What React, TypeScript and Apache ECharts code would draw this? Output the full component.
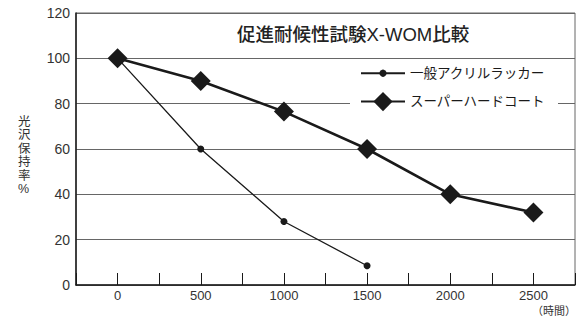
import React, { useEffect, useRef } from "react";
import * as echarts from "echarts";

const hours = [0, 500, 1000, 1500, 2000, 2500];
const acrylicName = "一般アクリルラッカー";
const acrylicValues = [100, 60, 28, 8.5];
const hardName = "スーパーハードコート";
const hardValues = [100, 90, 76.5, 60, 40, 32];
const titleText = "促進耐候性試験X-WOM比較";
const yAxisTitle = "光沢保持率%";
const xAxisUnit = "（時間）";

const FONT = "'Liberation Sans', 'Noto Sans CJK JP', sans-serif";
const INK = "#1a1a1a";

export default function App() {
  const ref = useRef<HTMLDivElement>(null);
  useEffect(() => {
    document.body.style.margin = "0";
    const chart = echarts.init(ref.current!, undefined, { renderer: "svg" });
    const legendBase = {
      left: 350,
      orient: "vertical" as const,
      itemWidth: 44,
      backgroundColor: "#ffffff",
      padding: [3, 13, 3, 10],
      textStyle: { fontSize: 13.5, color: INK, fontFamily: FONT },
    };
    chart.setOption({
      animation: false,
      backgroundColor: "#ffffff",
      textStyle: { fontFamily: FONT },
      grid: {
        left: 76,
        right: 3,
        top: 13,
        bottom: 33,
        show: true,
        borderColor: "#666",
        borderWidth: 1,
      },
      title: {
        text: titleText,
        left: 237,
        top: 25.5,
        padding: 0,
        textStyle: { fontSize: 18.5, fontWeight: 500, color: "#222", fontFamily: FONT },
      },
      legend: [
        { ...legendBase, top: 63.5, itemHeight: 9, data: [acrylicName] },
        { ...legendBase, top: 89, itemHeight: 24, data: [hardName] },
      ],
      xAxis: {
        type: "value",
        min: -250,
        max: 2750,
        interval: 250,
        axisLine: { onZero: false, lineStyle: { color: INK, width: 1.5 } },
        axisTick: { show: true, inside: true, length: 12, lineStyle: { color: INK, width: 1 } },
        splitLine: { show: false },
        axisLabel: {
          fontSize: 13,
          color: "#333",
          margin: 4,
          formatter: (v: number) =>
            v >= 0 && v <= 2500 && v % 500 === 0 ? String(v) : "",
        },
      },
      yAxis: {
        type: "value",
        min: 0,
        max: 120,
        interval: 20,
        axisLine: { show: true, onZero: false, lineStyle: { color: INK, width: 1.5 } },
        axisTick: { show: false },
        splitLine: { show: true, lineStyle: { color: "#666", width: 1 } },
        axisLabel: { fontSize: 14, color: "#333", margin: 6 },
      },
      graphic: [
        {
          type: "text",
          left: 18,
          top: 115,
          style: {
            text: yAxisTitle.split("").join("\n"),
            fontSize: 12.5,
            lineHeight: 13.5,
            fill: "#333",
            fontFamily: FONT,
            align: "center",
          },
        },
        {
          type: "text",
          left: 532,
          top: 305,
          style: { text: xAxisUnit, fontSize: 11, fill: "#333", fontFamily: FONT },
        },
      ],
      series: [
        {
          name: acrylicName,
          type: "line",
          data: acrylicValues.map((v, i) => [hours[i], v]),
          symbol: "circle",
          symbolSize: 7,
          lineStyle: { color: INK, width: 1.3 },
          itemStyle: { color: INK },
          z: 2,
        },
        {
          name: hardName,
          type: "line",
          data: hardValues.map((v, i) => [hours[i], v]),
          symbol: "diamond",
          symbolSize: 20,
          lineStyle: { color: INK, width: 2.6 },
          itemStyle: { color: INK },
          z: 3,
        },
      ],
    });
    return () => chart.dispose();
  }, []);
  return <div ref={ref} style={{ width: 578, height: 318 }} />;
}
